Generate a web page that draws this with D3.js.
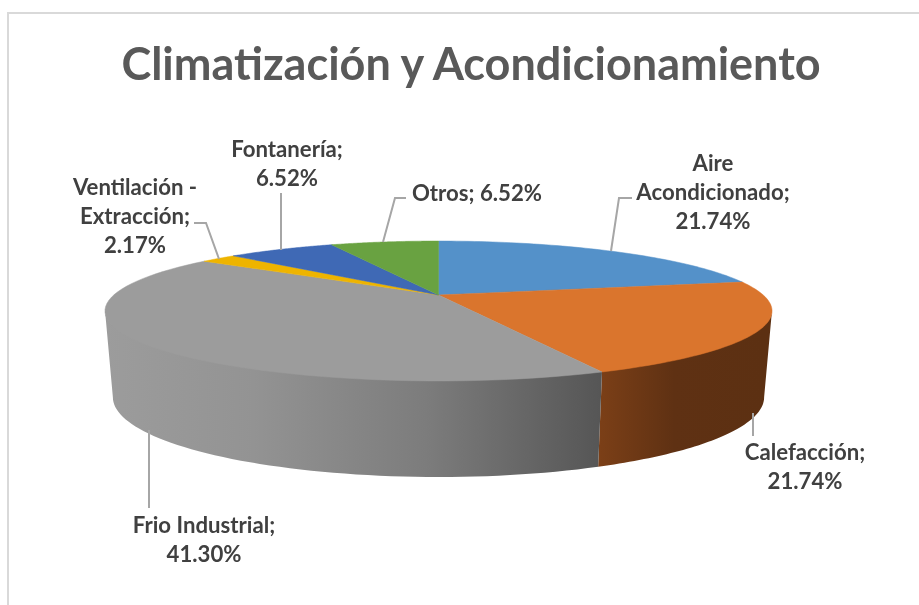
<!DOCTYPE html>
<html><head><meta charset="utf-8">
<script src="https://cdn.jsdelivr.net/npm/d3@7"></script>
<style>html,body{margin:0;background:#fff;overflow:hidden}svg{display:block;filter:blur(0.45px)}text{font-family:Lato,"Open Sans",sans-serif;font-weight:700}</style>
</head><body><svg id="c" width="919" height="605"></svg>
<script>
const title = "Climatización y Acondicionamiento";
const categories = ["Aire Acondicionado","Calefacción","Frio Industrial","Ventilación - Extracción","Fontanería","Otros"];
const values = [21.74,21.74,41.30,2.17,6.52,6.52];
const sliceColors = ["#5491c9","#da752d","#9c9c9c","#eeb400","#3f69b5","#69a241"];
const labelLines = [["Aire","Acondicionado;","21.74%"],["Calefacción;","21.74%"],["Frio Industrial;","41.30%"],["Ventilación -","Extracción;","2.17%"],["Fontanería;","6.52%"],["Otros; 6.52%"]];

// layout
const labelCentre = [[713,163],[805,452],[204,525],[135,187],[287,149],[477,193]];
const labelStep = 29.3;
const leaders = [
  [[632,198],[619,198],[611,251]],
  [[753,413],[753,436]],
  [[149,430],[149,508]],
  [[194,223],[206,223],[219,259]],
  [[281,193],[281,250]],
  [[406,198],[395,198],[383,242]]
];
const k = 0.2286;
const topFace = {cx:438.5, cy:295, R:324.7, B:66.3};
const botFace = {cx:438.5, cy:379, R:317, B:75.6};

const svg = d3.select("#c");
const project = (p,a) => {
  const u=Math.sin(a), v=Math.cos(a), w=1+k*v;
  return [d3.scaleLinear().domain([0,1]).range([p.cx,p.cx+p.R])(u/w),
          d3.scaleLinear().domain([0,1]).range([p.cy,p.cy-p.B])(v/w)];
};
const arcs = d3.pie().sort(null).value(d=>d)(values);
const samples = (a,b)=> d3.range(0,61).map(i=>a+(b-a)*i/60);
const line = d3.line();

// chart frame
svg.append("path").attr("d",line([[8,610],[8,13],[925,13]])).attr("fill","none").attr("stroke","#d9d9d9").attr("stroke-width",2);

// gradients
const defs = svg.append("defs");
const grad=(id,x1,x2,stops)=>{const g=defs.append("linearGradient").attr("id",id).attr("gradientUnits","userSpaceOnUse").attr("x1",x1).attr("x2",x2).attr("y1",0).attr("y2",0);
  stops.forEach(s=>g.append("stop").attr("offset",s[0]).attr("stop-color",s[1]));};
grad("gGrey",105,600,[[0,"#9c9c9c"],[0.3,"#939393"],[0.65,"#7c7c7c"],[1,"#565656"]]);
grad("gOr",600,765,[[0,"#7b3f17"],[0.45,"#5f3113"],[1,"#5c3012"]]);

// front walls
const tangent = Math.acos(-k);
const walls = [{i:1,fill:"url(#gOr)"},{i:2,fill:"url(#gGrey)"}];
walls.forEach(d=>{
  const s=arcs[d.i];
  const a0=Math.max(s.startAngle,tangent), a1=Math.min(s.endAngle,2*Math.PI-tangent);
  const as=samples(a0,a1);
  const upper=as.map(a=>{const p=project(topFace,a);return [p[0],p[1]-1];});
  const pts=upper.concat(as.slice().reverse().map(a=>project(botFace,a)));
  svg.append("path").attr("d",line(pts)+"Z").attr("fill",d.fill);
});

// top face
arcs.forEach((s,i)=>{
  const pts=[[topFace.cx,topFace.cy]].concat(samples(s.startAngle,s.endAngle).map(a=>project(topFace,a)));
  svg.append("path").attr("d",line(pts)+"Z").attr("fill",sliceColors[i]).attr("stroke",sliceColors[i]).attr("stroke-width",0.5);
});

// leaders
leaders.forEach(l=>svg.append("path").attr("d",line(l)).attr("fill","none").attr("stroke","#a6a6a6").attr("stroke-width",2));

// labels
labelLines.forEach((ls,i)=>{
  const [x,y]=labelCentre[i];
  ls.forEach((t,j)=>svg.append("text").attr("x",x).attr("y",y+j*labelStep).attr("dy","0.35em").attr("text-anchor","middle").attr("font-size",22.2).attr("fill","#404040").text(t));
});
svg.append("text").attr("x",471).attr("y",64).attr("dy","0.35em").attr("text-anchor","middle").attr("font-size",45).attr("fill","#595959").text(title);
</script></body></html>
